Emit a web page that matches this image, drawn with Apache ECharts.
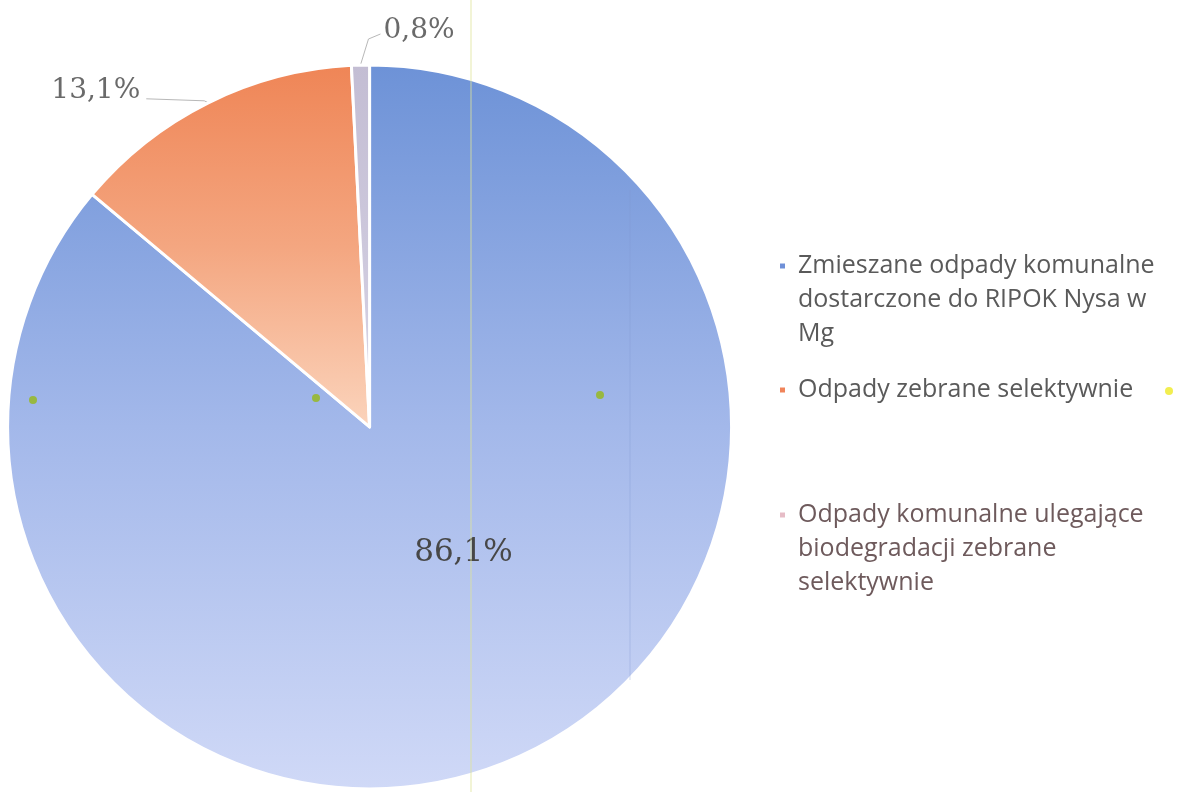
<!DOCTYPE html>
<html>
<head>
<meta charset="utf-8">
<script src="https://cdn.jsdelivr.net/npm/echarts@6/dist/echarts.min.js"></script>
<style>
html,body{margin:0;padding:0;background:#ffffff;}
#chart{width:1177px;height:792px;}
</style>
</head>
<body>
<div id="chart"></div>
<script>
// ---- data ----
const categories = [
  'Zmieszane odpady komunalne dostarczone do RIPOK Nysa w Mg',
  'Odpady zebrane selektywnie',
  'Odpady komunalne ulegające biodegradacji zebrane selektywnie'
];
const legendLines = [
  'Zmieszane odpady komunalne\ndostarczone do RIPOK Nysa w\nMg',
  'Odpady zebrane selektywnie',
  'Odpady komunalne ulegające\nbiodegradacji zebrane\nselektywnie'
];
const shares = [86.1, 13.1, 0.8];
const shareLabels = ['86,1%', '13,1%', '0,8%'];

// ---- styles ----
const sliceGradients = [
  ['#6d92d7', '#a3b8ea', '#d0d9f7'],
  ['#ef8556', '#f4a680', '#fbd4bc'],
  ['#c3bdd3', '#cdc8dc', '#d9d5e6']
];
const iconColors = ['#6f90d8', '#f0845a', '#e6bcc6'];
const legendTextColors = ['#5a5a5a', '#5a5a5a', '#6e5a5c'];

function grad(stops) {
  return {
    type: 'linear', x: 0, y: 0, x2: 0, y2: 1,
    colorStops: [
      { offset: 0, color: stops[0] },
      { offset: 0.5, color: stops[1] },
      { offset: 1, color: stops[2] }
    ]
  };
}

const pieData = categories.map((name, i) => {
  const item = {
    name: name,
    value: shares[i],
    itemStyle: { color: grad(sliceGradients[i]) }
  };
  if (i === 0) {
    item.label = {
      position: 'inside',
      offset: [16, -41],
      color: '#474747',
      fontSize: 31
    };
  }
  return item;
});

// legend icon sits on the first text line: square at top of a tall, otherwise empty icon box
const legendLH = [34, 34, 34];
const legendLineCount = legendLines.map(s => s.split('\n').length);
const legendIconH = legendLineCount.map((n, i) => (n - 1) * legendLH[i] + 7);
const legendTops = [249, 373, 498];

const legends = categories.map((name, i) => ({
  data: [{ name: name, itemStyle: { color: iconColors[i] } }],
  left: 778,
  top: legendTops[i],
  padding: 0,
  orient: 'vertical',
  icon: 'path://M0,0L7,0L7,7L0,7Z M0,' + legendIconH[i] + 'L0.01,' + legendIconH[i],
  itemWidth: 7,
  itemHeight: legendIconH[i],
  selectedMode: false,
  formatter: function () { return legendLines[i]; },
  textStyle: {
    fontFamily: 'Open Sans',
    fontSize: 25,
    color: legendTextColors[i],
    lineHeight: legendLH[i],
    padding: [0, 0, 0, 7]
  }
}));

const chart = echarts.init(document.getElementById('chart'), null, { renderer: 'canvas' });
chart.setOption({
  backgroundColor: '#ffffff',
  animation: false,
  legend: legends,
  graphic: [
    { type: 'line', shape: { x1: 471, y1: 0, x2: 471, y2: 792 }, style: { stroke: '#dfe39a', lineWidth: 1, opacity: 0.8 }, z: 100 },
    { type: 'line', shape: { x1: 630, y1: 190, x2: 630, y2: 680 }, style: { stroke: '#7d97cf', lineWidth: 1, opacity: 0.35 }, z: 100 },
    { type: 'circle', shape: { cx: 33, cy: 400, r: 4 }, style: { fill: '#98b840' }, z: 100 },
    { type: 'circle', shape: { cx: 316, cy: 398, r: 4 }, style: { fill: '#98b840' }, z: 100 },
    { type: 'circle', shape: { cx: 600, cy: 395, r: 4 }, style: { fill: '#98b840' }, z: 100 },
    { type: 'circle', shape: { cx: 1169, cy: 391, r: 4 }, style: { fill: '#f2ee50' }, z: 100 }
  ],
  series: [{
    type: 'pie',
    center: ['31.4%', '53.9%'],
    radius: 362,
    startAngle: 90,
    clockwise: true,
    avoidLabelOverlap: false,
    itemStyle: { borderColor: '#ffffff', borderWidth: 3 },
    label: {
      show: true,
      position: 'outside',
      formatter: function (p) { return shareLabels[p.dataIndex]; },
      fontFamily: 'DejaVu Serif',
      fontSize: 28,
      color: '#6a6a6a'
    },
    labelLine: {
      show: true,
      length: 3,
      length2: 58,
      smooth: false,
      lineStyle: { color: '#b8b8b8', width: 1 }
    },
    labelLayout: function (p) {
      if (p.dataIndex === 2 && p.labelLinePoints) {
        const a = p.labelLinePoints[0];
        return {
          x: a[0] + 23, y: a[1] - 34, align: 'left', verticalAlign: 'middle',
          labelLinePoints: [a, [a[0] + 8, a[1] - 26], [a[0] + 20, a[1] - 31]]
        };
      }
      if (p.dataIndex === 1 && p.labelLinePoints) {
        const a = p.labelLinePoints[0];
        return {
          x: a[0] - 68, y: a[1] - 12, align: 'right', verticalAlign: 'middle',
          labelLinePoints: [a, [a[0] - 4, a[1] - 2], [a[0] - 62, a[1] - 4]]
        };
      }
      return {};
    },
    data: pieData
  }]
});
</script>
</body>
</html>
